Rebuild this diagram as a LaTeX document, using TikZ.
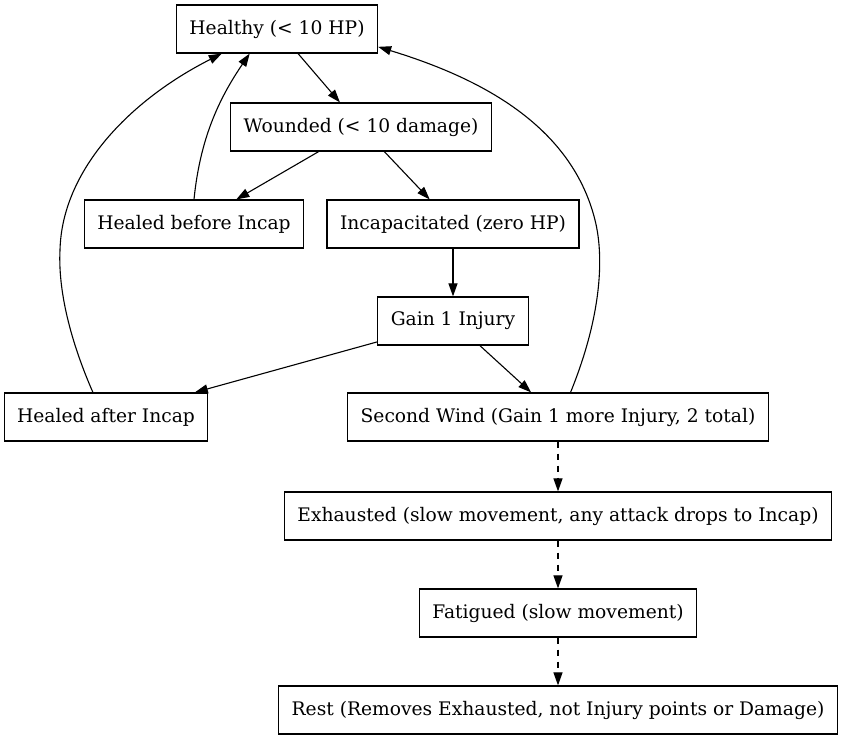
\documentclass[tikz,border=0pt]{standalone}
\usepackage{fontspec}
\setmainfont{DejaVu Serif}
\usetikzlibrary{arrows.meta}

\begin{document}
\begin{tikzpicture}[x=1pt,y=-1pt,
  state/.style={draw, line width=1.2pt, rectangle, minimum height=48pt, inner xsep=13pt, font=\fontsize{18.67}{22}\selectfont},
  edge/.style={line width=1.1pt, -{Triangle[length=13pt,width=9pt]}},
  later/.style={edge, dash pattern=on 6pt off 6pt}]
\useasboundingbox (0,0) rectangle (844,741);

\node[state] (healthy) at (277,29) {Healthy (< 10 HP)};
\node[state] (wounded) at (361,127) {Wounded (< 10 damage)};
\node[state] (hbefore) at (194,224) {Healed before Incap};
\node[state] (incap) at (453,224) {Incapacitated (zero HP)};
\node[state] (gain) at (453,321) {Gain 1 Injury};
\node[state] (hafter) at (106,417) {Healed after Incap};
\node[state] (second) at (558,417) {Second Wind (Gain 1 more Injury, 2 total)};
\node[state] (exhausted) at (558,516) {Exhausted (slow movement, any attack drops to Incap)};
\node[state] (fatigued) at (558,613) {Fatigued (slow movement)};
\node[state] (rest) at (558,710) {Rest (Removes Exhausted, not Injury points or Damage)};

\draw [edge] (healthy) -- (wounded);
\draw [edge] (wounded) -- (hbefore);
\draw [edge] (wounded) -- (incap);
\draw [edge] (incap) -- (gain);
\draw [edge] (gain) -- (hafter);
\draw [edge] (gain) -- (second);

% back to healthy
\draw [edge] (hbefore.north) .. controls (200,140) and (218,100) .. (healthy.-138);
\draw [edge] (hafter.118) .. controls (70,340) and (58,290) .. (60,250)
  .. controls (62,170) and (130,100) .. (healthy.204);
\draw [edge] (second.63) .. controls (600,320) and (605,260) .. (595,220)
  .. controls (570,120) and (470,75) .. (healthy.-10);

\draw [later] (second) -- (exhausted);
\draw [later] (exhausted) -- (fatigued);
\draw [later] (fatigued) -- (rest);
\end{tikzpicture}
\end{document}
